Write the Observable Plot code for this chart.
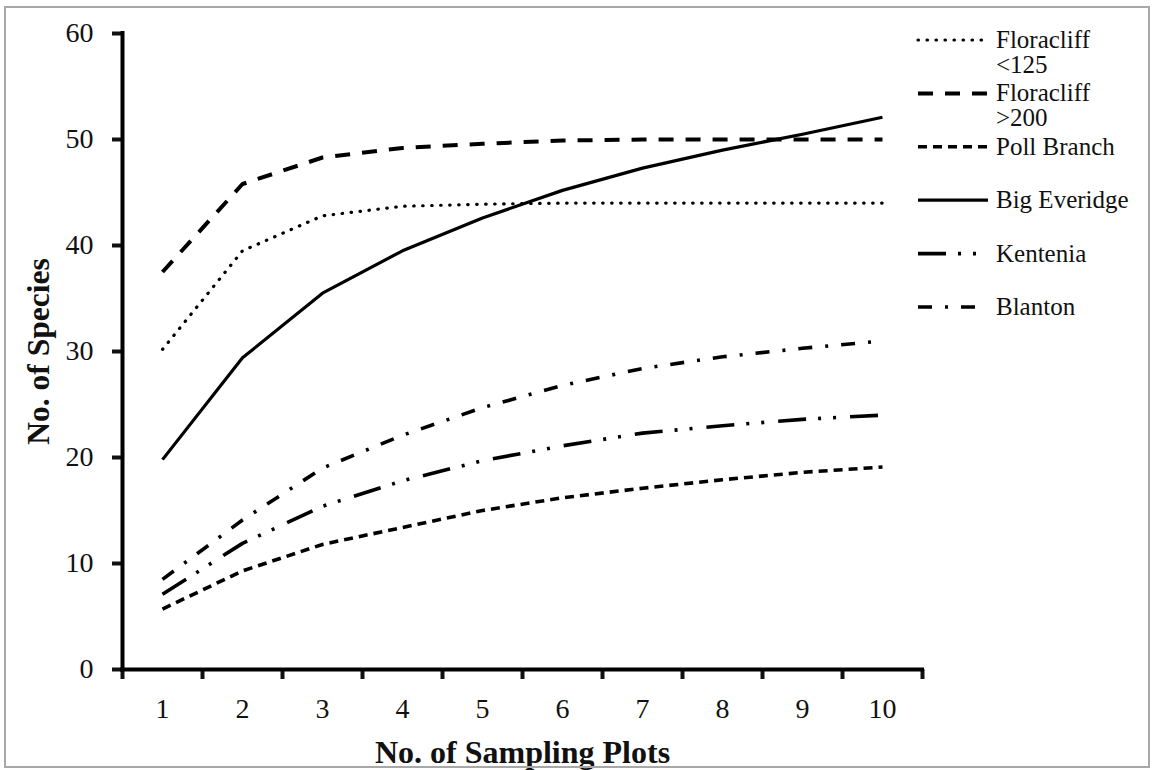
<!DOCTYPE html>
<html>
<head>
<meta charset="utf-8">
<script src="https://cdn.jsdelivr.net/npm/d3@7"></script>
<script src="https://cdn.jsdelivr.net/npm/@observablehq/plot@0.6"></script>
<style>
  html, body { margin: 0; padding: 0; background: #fff; }
  #wrap { position: relative; width: 1154px; height: 770px; overflow: hidden; }
  #frame { position: absolute; left: 4px; top: 6px; width: 1142px; height: 758px; border: 2px solid #a8a8a8; pointer-events: none; }
  #legend { position: absolute; left: 0; top: 0; }
</style>
</head>
<body>
<div id="wrap"><div id="frame"></div></div>
<script>
// ---- data ----
const categories = [1, 2, 3, 4, 5, 6, 7, 8, 9, 10];
const yTicks = [0, 10, 20, 30, 40, 50, 60];
const floracliff125 = [30.2, 39.5, 42.8, 43.7, 43.9, 44.0, 44.0, 44.0, 44.0, 44.0];
const floracliff200 = [37.5, 45.8, 48.3, 49.2, 49.6, 49.9, 50.0, 50.0, 50.0, 50.0];
const pollBranch    = [5.7, 9.3, 11.8, 13.4, 15.0, 16.2, 17.1, 17.9, 18.6, 19.1];
const bigEveridge   = [19.8, 29.4, 35.5, 39.5, 42.6, 45.2, 47.3, 49.0, 50.5, 52.1];
const kentenia      = [7.1, 11.9, 15.4, 17.8, 19.7, 21.1, 22.3, 23.0, 23.6, 24.0];
const blanton       = [8.5, 14.1, 19.0, 22.1, 24.7, 26.8, 28.4, 29.5, 30.3, 31.0];
const seriesLabels = [["Floracliff", "<125"], ["Floracliff", ">200"], ["Poll Branch"], ["Big Everidge"], ["Kentenia"], ["Blanton"]];
const seriesValues = [floracliff125, floracliff200, pollBranch, bigEveridge, kentenia, blanton];

// ---- styles ----
const lineStyles = [
  {dash: "0.5,8.5", width: 3.2, cap: "round"},
  {dash: "15,12", width: 4, cap: "butt"},
  {dash: "9,6", width: 3.6, cap: "butt"},
  {dash: null, width: 3.2, cap: "butt"},
  {dash: "28,12,3,12,3,14", width: 3.6, cap: "butt"},
  {dash: "14,13,3,13", width: 3.6, cap: "butt"}
];
const FONT = "'Liberation Serif', 'Times New Roman', serif";
const boundaries = d3.range(0.5, 11, 1);

const rows = seriesValues.flatMap((vals, s) => vals.map((v, i) => ({s, x: categories[i], y: v})));

const plot = Plot.plot({
  width: 1154,
  height: 770,
  marginLeft: 122,
  marginRight: 232,
  marginTop: 33,
  marginBottom: 101,
  style: {fontFamily: FONT, background: "transparent", color: "#111", overflow: "visible"},
  x: {domain: [0.5, 10.5]},
  y: {domain: [0, 60]},
  marks: [
    ...lineStyles.map((st, s) => Plot.line(rows.filter(r => r.s === s), {
      x: "x", y: "y", stroke: "#000", strokeWidth: st.width,
      strokeDasharray: st.dash, strokeLinecap: st.cap, strokeLinejoin: "round"
    })),
    Plot.axisY({ticks: yTicks, tickSize: 10, tickPadding: 19, strokeWidth: 4, fontSize: 28, label: null, tickFormat: d => String(d)}),
    Plot.axisX({ticks: boundaries, tickSize: 10, strokeWidth: 4, tickFormat: () => "", label: null}),
    Plot.axisX({ticks: categories, tickSize: 0, tickPadding: 29, fontSize: 28, label: null, tickFormat: d => String(d)}),
    Plot.ruleX([0.5], {stroke: "#000", strokeWidth: 4, strokeLinecap: "square"}),
    Plot.ruleY([0], {stroke: "#000", strokeWidth: 4, strokeLinecap: "square"}),
    Plot.text(["No. of Sampling Plots"], {frameAnchor: "bottom", dy: 93, lineAnchor: "bottom", textAnchor: "middle", fontSize: 32, fontWeight: "bold", fill: "#111"}),
    Plot.text(["No. of Species"], {frameAnchor: "left", dx: -74, dy: 0, rotate: -90, lineAnchor: "bottom", textAnchor: "middle", fontSize: 31.5, fontWeight: "bold", fill: "#111"})
  ]
});
const wrap = document.getElementById("wrap");
wrap.insertBefore(plot, wrap.firstChild);

// ---- legend (right side) ----
const legendRowY = d3.scaleLinear().domain([0, 5]).range([40, 307]);
const lg = d3.select(wrap).append("svg").attr("id", "legend").attr("width", 1154).attr("height", 770)
  .style("font-family", FONT);
seriesLabels.forEach((lab, i) => {
  const st = lineStyles[i];
  const yy = legendRowY(i);
  lg.append("line").attr("x1", 918).attr("x2", 988).attr("y1", yy).attr("y2", yy)
    .attr("stroke", "#000").attr("stroke-width", st.width)
    .attr("stroke-dasharray", st.dash).attr("stroke-linecap", st.cap);
  const t = lg.append("text").attr("x", 996).attr("y", yy + 8).attr("font-size", 25).attr("fill", "#111");
  lab.forEach((l, j) => t.append("tspan").attr("x", 996).attr("dy", j === 0 ? 0 : 25).text(l));
});
</script>
</body>
</html>
